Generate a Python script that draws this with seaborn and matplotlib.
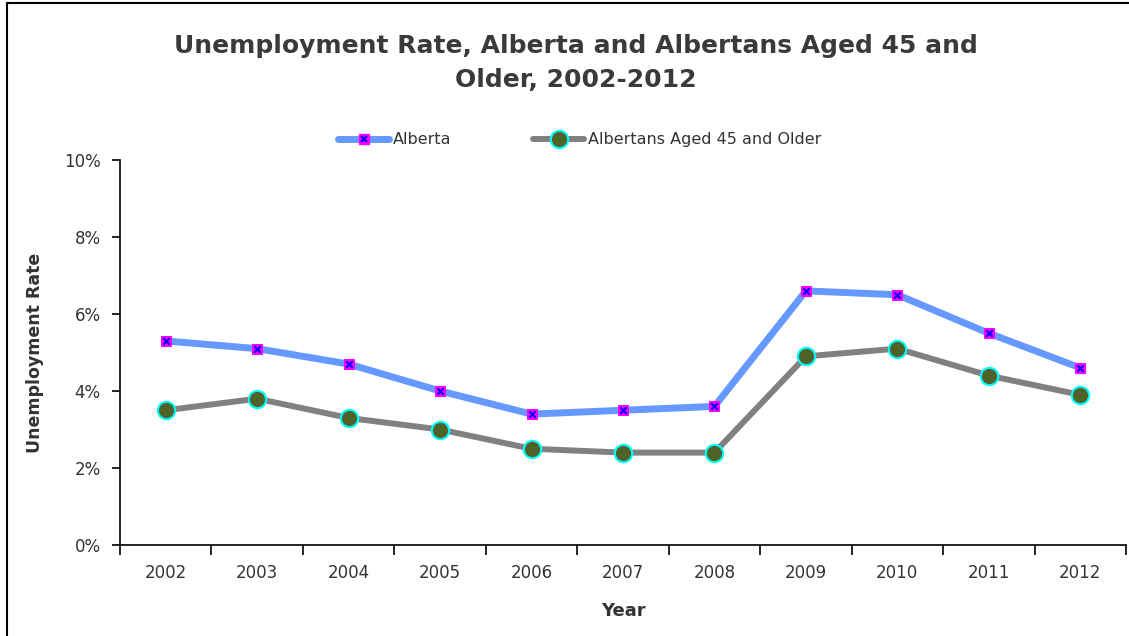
import matplotlib
matplotlib.use("Agg")
import matplotlib.pyplot as plt
from matplotlib.lines import Line2D
from matplotlib.ticker import FixedLocator, PercentFormatter
import seaborn as sns
import pandas as pd

years = ["2002", "2003", "2004", "2005", "2006", "2007", "2008", "2009", "2010", "2011", "2012"]
alberta = [5.3, 5.1, 4.7, 4.0, 3.4, 3.5, 3.6, 6.6, 6.5, 5.5, 4.6]
aged45 = [3.5, 3.8, 3.3, 3.0, 2.5, 2.4, 2.4, 4.9, 5.1, 4.4, 3.9]
y_ticks = [0, 2, 4, 6, 8, 10]

sns.set_theme(style="white")
plt.rcParams['font.family'] = ['DejaVu Sans']

df = pd.DataFrame({"pos": list(range(len(years))), "year": years,
                   "Alberta": alberta, "Albertans Aged 45 and Older": aged45})

fig = plt.figure(figsize=(11.29, 6.36), dpi=100)
ax = fig.add_axes([120/1129, 1-545/636, (1126-120)/1129, (545-160)/636])

blue = "#6699FF"
gray = "#808080"

sns.lineplot(data=df, x="pos", y="Alberta", ax=ax, color=blue, linewidth=5,
             marker="s", markersize=7, markerfacecolor="#FF00FF",
             markeredgecolor="#FF00FF", sort=False, zorder=3)
sns.scatterplot(data=df, x="pos", y="Alberta", ax=ax, marker="x", color="#0000FF",
                s=22, linewidth=1.5, zorder=4)
sns.lineplot(data=df, x="pos", y="Albertans Aged 45 and Older", ax=ax, color=gray,
             linewidth=4.3, marker="o", markersize=12.5, markerfacecolor="#4F6228",
             markeredgecolor="#00FFFF", markeredgewidth=1.5, sort=False, zorder=3)

ax.set_xlim(-0.5, len(years) - 0.5)
ax.set_ylim(0, 10)
ax.yaxis.set_major_locator(FixedLocator(y_ticks))
ax.yaxis.set_major_formatter(PercentFormatter(decimals=0))

ax.xaxis.set_major_locator(FixedLocator([i - 0.5 for i in range(len(years) + 1)]))
ax.xaxis.set_minor_locator(FixedLocator(list(range(len(years)))))
ax.set_xticklabels([])
ax.set_xticklabels(years, minor=True)
ax.tick_params(axis="x", which="major", direction="out", length=7, width=1.2, color="black", bottom=True)
ax.tick_params(axis="x", which="minor", length=0, pad=14, labelsize=12, labelcolor="#333333", bottom=True)
ax.tick_params(axis="y", direction="out", length=6, width=1.2, color="black", left=True,
               labelsize=12, labelcolor="#333333", pad=8)

for s in ["top", "right"]:
    ax.spines[s].set_visible(False)
for s in ["left", "bottom"]:
    ax.spines[s].set_color("black")
    ax.spines[s].set_linewidth(1.2)

ax.set_xlabel("Year", fontsize=13, fontweight="bold", color="#333333", labelpad=14)
ax.set_ylabel("Unemployment Rate", fontsize=12.5, fontweight="bold", color="#333333", labelpad=14)

fig.text(0.51, 1-63/636, "Unemployment Rate, Alberta and Albertans Aged 45 and\nOlder, 2002-2012",
         ha="center", va="center", fontsize=18, fontweight="bold", color="#3a3a3a",
         linespacing=1.5)

h1 = (Line2D([], [], color=blue, linewidth=5, marker="s", markersize=7,
             markerfacecolor="#FF00FF", markeredgecolor="#FF00FF"),
      Line2D([], [], linestyle="none", marker="x", markersize=5, color="#0000FF", markeredgewidth=1.5))
h2 = Line2D([], [], color=gray, linewidth=4.3, marker="o", markersize=12.5,
            markerfacecolor="#4F6228", markeredgecolor="#00FFFF", markeredgewidth=1.5)
fig.legend([h1, h2], ["Alberta", "Albertans Aged 45 and Older"], loc="center",
           bbox_to_anchor=(580/1129, 1-140/636), ncol=2, frameon=False,
           fontsize=11.5, handlelength=3.2, handletextpad=0.25, columnspacing=5.1,
           labelcolor="#333333")

fig.add_artist(Line2D([7/1129, 7/1129], [0, 1-3/636], transform=fig.transFigure, color="black", linewidth=1.5))
fig.add_artist(Line2D([7/1129, 1], [1-3/636, 1-3/636], transform=fig.transFigure, color="black", linewidth=1.5))

fig.savefig("out.png", dpi=100)
